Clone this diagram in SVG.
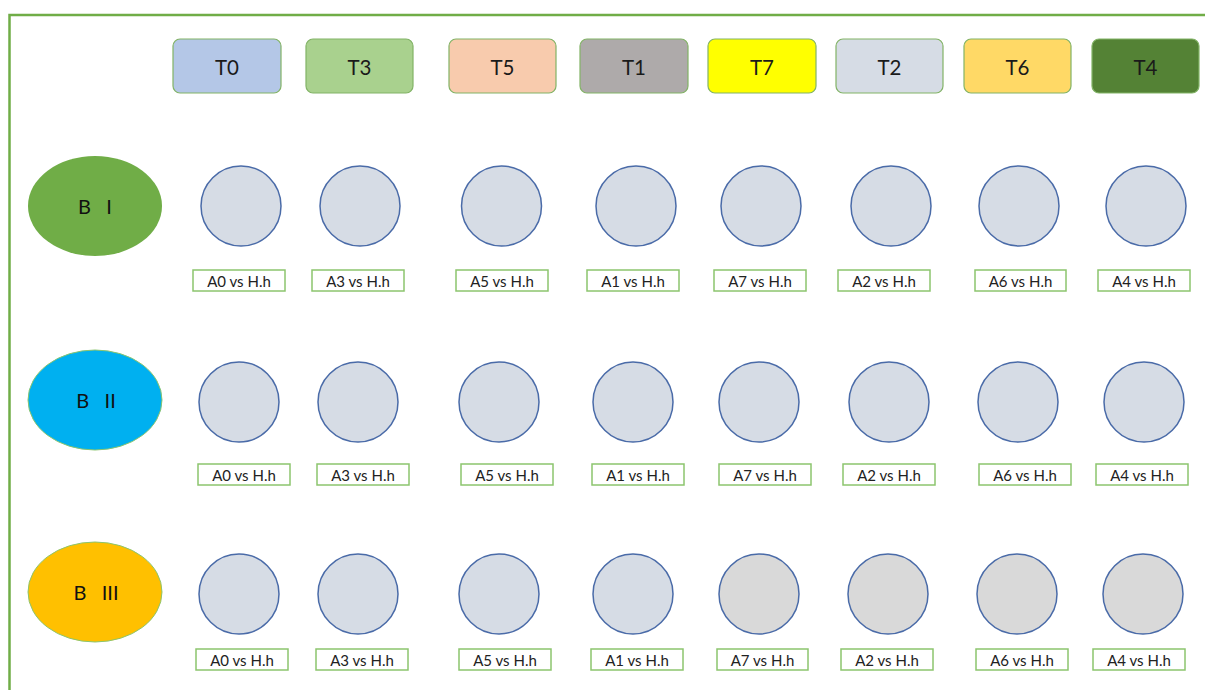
<svg xmlns="http://www.w3.org/2000/svg" width="1205" height="690" viewBox="0 0 1205 690">
<style>
.frame{fill:none;stroke:#70AD47;stroke-width:2.5}
.hdr{stroke:#82B366;stroke-width:1.2}
.ht{font-family:Lato,"Liberation Sans",sans-serif;font-size:20.5px;fill:#1a1a1a;text-anchor:middle;dominant-baseline:central}
.c{fill:#D6DCE5;stroke:#4A6BA8;stroke-width:1.5}
.cg{fill:#D9D9D9;stroke:#4A6BA8;stroke-width:1.5}
.lb{fill:#fff;stroke:#8CC56E;stroke-width:1.5}
.lt{font-family:Lato,"Liberation Sans",sans-serif;font-size:15px;fill:#222;text-anchor:middle;dominant-baseline:central}
.et{font-family:Lato,"Liberation Sans",sans-serif;font-size:20px;fill:#111;text-anchor:middle;dominant-baseline:central;white-space:pre}
</style>
<rect width="1205" height="690" fill="#fff"/>
<path class="frame" d="M9.5 700 V15 H1215"/>
<g id="headers">
<g id="T0"><rect class="hdr" x="173" y="39" width="108" height="54" rx="7" fill="#B4C7E7"/><text class="ht" x="227" y="67">T0</text></g>
<g id="T3"><rect class="hdr" x="306" y="39" width="107" height="54" rx="7" fill="#A9D18E"/><text class="ht" x="359.5" y="67">T3</text></g>
<g id="T5"><rect class="hdr" x="449" y="39" width="107" height="54" rx="7" fill="#F8CBAD"/><text class="ht" x="502.5" y="67">T5</text></g>
<g id="T1"><rect class="hdr" x="580" y="39" width="108" height="54" rx="7" fill="#AEAAAA"/><text class="ht" x="634" y="67">T1</text></g>
<g id="T7"><rect class="hdr" x="708" y="39" width="108" height="54" rx="7" fill="#FFFF00"/><text class="ht" x="762" y="67">T7</text></g>
<g id="T2"><rect class="hdr" x="836" y="39" width="107" height="54" rx="7" fill="#D6DCE5"/><text class="ht" x="889.5" y="67">T2</text></g>
<g id="T6"><rect class="hdr" x="964" y="39" width="107" height="54" rx="7" fill="#FFD966"/><text class="ht" x="1017.5" y="67">T6</text></g>
<g id="T4"><rect class="hdr" x="1092" y="39" width="107" height="54" rx="7" fill="#548235"/><text class="ht" x="1145.5" y="67">T4</text></g>
</g>
<g id="BI"><ellipse cx="95" cy="206" rx="67" ry="50" fill="#70AD47"/><text class="et" x="95" y="206" xml:space="preserve">B   I</text></g>
<g id="BII"><ellipse cx="95" cy="400" rx="67" ry="50" fill="#00B0F0" stroke="#8CC56E" stroke-width="1"/><text class="et" x="96" y="400" xml:space="preserve">B   II</text></g>
<g id="BIII"><ellipse cx="95" cy="592" rx="67" ry="50" fill="#FFC000" stroke="#8CC56E" stroke-width="1"/><text class="et" x="96" y="592" xml:space="preserve">B   III</text></g>
<g id="row1">
<g id="r1c0"><circle class="c" cx="241" cy="206" r="40"/><rect class="lb" x="193" y="270" width="92" height="21"/><text class="lt" x="239" y="280.5">A0 vs H.h</text></g>
<g id="r1c1"><circle class="c" cx="360" cy="206" r="40"/><rect class="lb" x="312" y="270" width="92" height="21"/><text class="lt" x="358" y="280.5">A3 vs H.h</text></g>
<g id="r1c2"><circle class="c" cx="501.5" cy="206" r="40"/><rect class="lb" x="456" y="270" width="92" height="21"/><text class="lt" x="502" y="280.5">A5 vs H.h</text></g>
<g id="r1c3"><circle class="c" cx="636" cy="206" r="40"/><rect class="lb" x="587" y="270" width="92" height="21"/><text class="lt" x="633" y="280.5">A1 vs H.h</text></g>
<g id="r1c4"><circle class="c" cx="761" cy="206" r="40"/><rect class="lb" x="714" y="270" width="92" height="21"/><text class="lt" x="760" y="280.5">A7 vs H.h</text></g>
<g id="r1c5"><circle class="c" cx="891" cy="206" r="40"/><rect class="lb" x="838" y="270" width="92" height="21"/><text class="lt" x="884" y="280.5">A2 vs H.h</text></g>
<g id="r1c6"><circle class="c" cx="1019" cy="206" r="40"/><rect class="lb" x="975" y="270" width="91" height="21"/><text class="lt" x="1020.5" y="280.5">A6 vs H.h</text></g>
<g id="r1c7"><circle class="c" cx="1146" cy="206" r="40"/><rect class="lb" x="1098" y="270" width="92" height="21"/><text class="lt" x="1144" y="280.5">A4 vs H.h</text></g>
</g>
<g id="row2">
<g id="r2c0"><circle class="c" cx="239" cy="402" r="40"/><rect class="lb" x="198" y="464" width="92" height="21"/><text class="lt" x="244" y="474.5">A0 vs H.h</text></g>
<g id="r2c1"><circle class="c" cx="358" cy="402" r="40"/><rect class="lb" x="317" y="464" width="92" height="21"/><text class="lt" x="363" y="474.5">A3 vs H.h</text></g>
<g id="r2c2"><circle class="c" cx="499" cy="402" r="40"/><rect class="lb" x="461" y="464" width="92" height="21"/><text class="lt" x="507" y="474.5">A5 vs H.h</text></g>
<g id="r2c3"><circle class="c" cx="633" cy="402" r="40"/><rect class="lb" x="592" y="464" width="92" height="21"/><text class="lt" x="638" y="474.5">A1 vs H.h</text></g>
<g id="r2c4"><circle class="c" cx="759" cy="402" r="40"/><rect class="lb" x="719" y="464" width="92" height="21"/><text class="lt" x="765" y="474.5">A7 vs H.h</text></g>
<g id="r2c5"><circle class="c" cx="889" cy="402" r="40"/><rect class="lb" x="843" y="464" width="92" height="21"/><text class="lt" x="889" y="474.5">A2 vs H.h</text></g>
<g id="r2c6"><circle class="c" cx="1018" cy="402" r="40"/><rect class="lb" x="979" y="464" width="92" height="21"/><text class="lt" x="1025" y="474.5">A6 vs H.h</text></g>
<g id="r2c7"><circle class="c" cx="1144" cy="402" r="40"/><rect class="lb" x="1096" y="464" width="92" height="21"/><text class="lt" x="1142" y="474.5">A4 vs H.h</text></g>
</g>
<g id="row3">
<g id="r3c0"><circle class="c" cx="239" cy="594" r="40"/><rect class="lb" x="196" y="649" width="92" height="21"/><text class="lt" x="242" y="659.5">A0 vs H.h</text></g>
<g id="r3c1"><circle class="c" cx="358" cy="594" r="40"/><rect class="lb" x="316" y="649" width="92" height="21"/><text class="lt" x="362" y="659.5">A3 vs H.h</text></g>
<g id="r3c2"><circle class="c" cx="499" cy="594" r="40"/><rect class="lb" x="459" y="649" width="92" height="21"/><text class="lt" x="505" y="659.5">A5 vs H.h</text></g>
<g id="r3c3"><circle class="c" cx="633" cy="594" r="40"/><rect class="lb" x="591" y="649" width="92" height="21"/><text class="lt" x="637" y="659.5">A1 vs H.h</text></g>
<g id="r3c4"><circle class="cg" cx="759" cy="594" r="40"/><rect class="lb" x="717" y="649" width="91" height="21"/><text class="lt" x="762.5" y="659.5">A7 vs H.h</text></g>
<g id="r3c5"><circle class="cg" cx="888" cy="594" r="40"/><rect class="lb" x="841" y="649" width="92" height="21"/><text class="lt" x="887" y="659.5">A2 vs H.h</text></g>
<g id="r3c6"><circle class="cg" cx="1017" cy="594" r="40"/><rect class="lb" x="976" y="649" width="92" height="21"/><text class="lt" x="1022" y="659.5">A6 vs H.h</text></g>
<g id="r3c7"><circle class="cg" cx="1143" cy="594" r="40"/><rect class="lb" x="1093" y="649" width="92" height="21"/><text class="lt" x="1139" y="659.5">A4 vs H.h</text></g>
</g>
<g id="connectors"/>
</svg>
